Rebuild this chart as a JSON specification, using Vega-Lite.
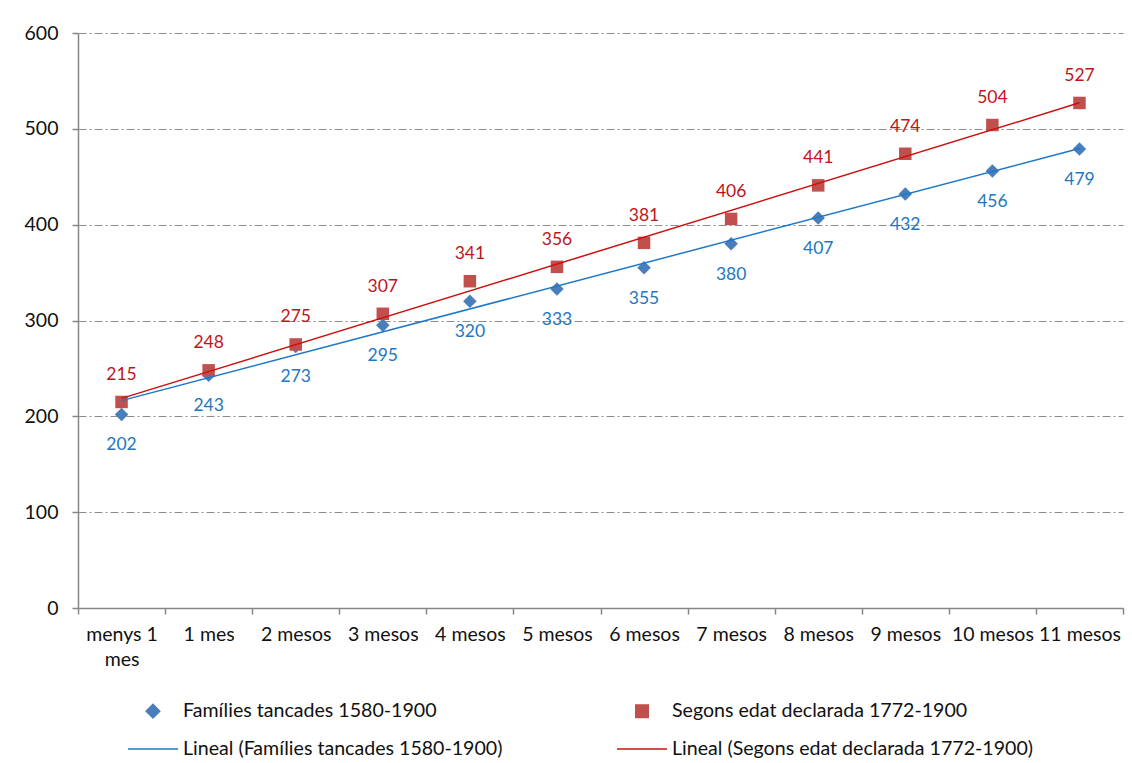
{
  "$schema": "https://vega.github.io/schema/vega-lite/v6.json",
  "width": 1045,
  "height": 575,
  "autosize": {"type": "none"},
  "padding": {"left": 78, "top": 33, "right": 9, "bottom": 155},
  "background": "white",
  "config": {
    "view": {"stroke": null},
    "font": "Lato",
    "axis": {
      "domainColor": "#868686",
      "domainWidth": 1.5,
      "tickColor": "#868686",
      "tickWidth": 1.5,
      "labelFont": "Lato",
      "labelFontSize": 19.5,
      "labelColor": "#111111",
      "title": null
    },
    "legend": {"padding": 0}
  },
  "datasets": {
    "pts": [
      {"idx": 1, "cat": "menys 1 mes", "series": "Famílies tancades 1580-1900", "trend": "Lineal (Famílies tancades 1580-1900)", "value": 202},
      {"idx": 2, "cat": "1 mes", "series": "Famílies tancades 1580-1900", "trend": "Lineal (Famílies tancades 1580-1900)", "value": 243},
      {"idx": 3, "cat": "2 mesos", "series": "Famílies tancades 1580-1900", "trend": "Lineal (Famílies tancades 1580-1900)", "value": 273},
      {"idx": 4, "cat": "3 mesos", "series": "Famílies tancades 1580-1900", "trend": "Lineal (Famílies tancades 1580-1900)", "value": 295},
      {"idx": 5, "cat": "4 mesos", "series": "Famílies tancades 1580-1900", "trend": "Lineal (Famílies tancades 1580-1900)", "value": 320},
      {"idx": 6, "cat": "5 mesos", "series": "Famílies tancades 1580-1900", "trend": "Lineal (Famílies tancades 1580-1900)", "value": 333},
      {"idx": 7, "cat": "6 mesos", "series": "Famílies tancades 1580-1900", "trend": "Lineal (Famílies tancades 1580-1900)", "value": 355},
      {"idx": 8, "cat": "7 mesos", "series": "Famílies tancades 1580-1900", "trend": "Lineal (Famílies tancades 1580-1900)", "value": 380},
      {"idx": 9, "cat": "8 mesos", "series": "Famílies tancades 1580-1900", "trend": "Lineal (Famílies tancades 1580-1900)", "value": 407},
      {"idx": 10, "cat": "9 mesos", "series": "Famílies tancades 1580-1900", "trend": "Lineal (Famílies tancades 1580-1900)", "value": 432},
      {"idx": 11, "cat": "10 mesos", "series": "Famílies tancades 1580-1900", "trend": "Lineal (Famílies tancades 1580-1900)", "value": 456},
      {"idx": 12, "cat": "11 mesos", "series": "Famílies tancades 1580-1900", "trend": "Lineal (Famílies tancades 1580-1900)", "value": 479},
      {"idx": 1, "cat": "menys 1 mes", "series": "Segons edat declarada 1772-1900", "trend": "Lineal (Segons edat declarada 1772-1900)", "value": 215},
      {"idx": 2, "cat": "1 mes", "series": "Segons edat declarada 1772-1900", "trend": "Lineal (Segons edat declarada 1772-1900)", "value": 248},
      {"idx": 3, "cat": "2 mesos", "series": "Segons edat declarada 1772-1900", "trend": "Lineal (Segons edat declarada 1772-1900)", "value": 275},
      {"idx": 4, "cat": "3 mesos", "series": "Segons edat declarada 1772-1900", "trend": "Lineal (Segons edat declarada 1772-1900)", "value": 307},
      {"idx": 5, "cat": "4 mesos", "series": "Segons edat declarada 1772-1900", "trend": "Lineal (Segons edat declarada 1772-1900)", "value": 341},
      {"idx": 6, "cat": "5 mesos", "series": "Segons edat declarada 1772-1900", "trend": "Lineal (Segons edat declarada 1772-1900)", "value": 356},
      {"idx": 7, "cat": "6 mesos", "series": "Segons edat declarada 1772-1900", "trend": "Lineal (Segons edat declarada 1772-1900)", "value": 381},
      {"idx": 8, "cat": "7 mesos", "series": "Segons edat declarada 1772-1900", "trend": "Lineal (Segons edat declarada 1772-1900)", "value": 406},
      {"idx": 9, "cat": "8 mesos", "series": "Segons edat declarada 1772-1900", "trend": "Lineal (Segons edat declarada 1772-1900)", "value": 441},
      {"idx": 10, "cat": "9 mesos", "series": "Segons edat declarada 1772-1900", "trend": "Lineal (Segons edat declarada 1772-1900)", "value": 474},
      {"idx": 11, "cat": "10 mesos", "series": "Segons edat declarada 1772-1900", "trend": "Lineal (Segons edat declarada 1772-1900)", "value": 504},
      {"idx": 12, "cat": "11 mesos", "series": "Segons edat declarada 1772-1900", "trend": "Lineal (Segons edat declarada 1772-1900)", "value": 527}
    ],
    "cats": [
      {"idx": 1, "cat": "menys 1 mes"},
      {"idx": 2, "cat": "1 mes"},
      {"idx": 3, "cat": "2 mesos"},
      {"idx": 4, "cat": "3 mesos"},
      {"idx": 5, "cat": "4 mesos"},
      {"idx": 6, "cat": "5 mesos"},
      {"idx": 7, "cat": "6 mesos"},
      {"idx": 8, "cat": "7 mesos"},
      {"idx": 9, "cat": "8 mesos"},
      {"idx": 10, "cat": "9 mesos"},
      {"idx": 11, "cat": "10 mesos"},
      {"idx": 12, "cat": "11 mesos"}
    ]
  },
  "data": {"name": "pts"},
  "encoding": {
    "x": {
      "field": "cat",
      "type": "nominal",
      "scale": {
        "type": "band",
        "domain": ["menys 1 mes", "1 mes", "2 mesos", "3 mesos", "4 mesos", "5 mesos", "6 mesos", "7 mesos", "8 mesos", "9 mesos", "10 mesos", "11 mesos"],
        "paddingInner": 0,
        "paddingOuter": 0
      },
      "axis": {
        "tickBand": "extent",
        "tickSize": 6,
        "labelPadding": 11,
        "labelAngle": 0,
        "grid": false,
        "labelExpr": "datum.label == 'menys 1 mes' ? ['menys 1', 'mes'] : datum.label",
        "labelLineHeight": 25
      }
    },
    "y": {
      "field": "value",
      "type": "quantitative",
      "scale": {"domain": [0, 600], "nice": false},
      "axis": {
        "values": [0, 100, 200, 300, 400, 500, 600],
        "tickSize": 6,
        "labelPadding": 14,
        "grid": true,
        "gridDash": [8, 3, 2, 3],
        "gridColor": "#8C8C8C",
        "gridWidth": 1
      }
    }
  },
  "layer": [
    {
      "mark": {"type": "point", "filled": true, "size": 2500, "opacity": 1, "strokeWidth": 0},
      "encoding": {
        "color": {
          "field": "series",
          "type": "nominal",
          "scale": {
            "domain": ["Famílies tancades 1580-1900", "Segons edat declarada 1772-1900", "Lineal (Famílies tancades 1580-1900)", "Lineal (Segons edat declarada 1772-1900)"],
            "range": ["#4A7EBB", "#C0504D", "#1F77C8", "#CC1010"]
          },
          "legend": {
            "orient": "none",
            "direction": "horizontal",
            "legendX": 49,
            "legendY": 652,
            "columns": 2,
            "columnPadding": 111,
            "rowPadding": 2,
            "title": null,
            "labelFont": "Lato",
            "labelFontSize": 19.6,
            "labelColor": "#111111",
            "labelLimit": 500,
            "labelOffset": 4,
            "symbolOffset": 0,
            "symbolSize": 2500,
            "symbolStrokeWidth": 1.5,
            "encode": {
              "symbols": {
                "update": {
                  "fill": {"scale": "color", "field": "value"},
                  "stroke": {"signal": "indexof(datum.value, 'Lineal') == 0 ? scale('color', datum.value) : 'transparent'"},
                  "strokeWidth": {"value": 1.5},
                  "opacity": {"value": 1}
                }
              }
            }
          }
        },
        "shape": {
          "field": "series",
          "type": "nominal",
          "scale": {
            "domain": ["Famílies tancades 1580-1900", "Segons edat declarada 1772-1900", "Lineal (Famílies tancades 1580-1900)", "Lineal (Segons edat declarada 1772-1900)"],
            "range": ["M-0.27,0L0,-0.27L0.27,0L0,0.27Z", "M-0.25,-0.25H0.25V0.25H-0.25Z", "M-1,0H1", "M-1,0H1"]
          },
          "legend": {
            "orient": "none",
            "direction": "horizontal",
            "legendX": 49,
            "legendY": 652,
            "columns": 2,
            "columnPadding": 111,
            "rowPadding": 2,
            "title": null,
            "labelFont": "Lato",
            "labelFontSize": 19.6,
            "labelColor": "#111111",
            "labelLimit": 500,
            "labelOffset": 4,
            "symbolOffset": 0,
            "symbolSize": 2500,
            "symbolStrokeWidth": 1.5
          }
        }
      }
    },
    {
      "transform": [
        {"regression": "value", "on": "idx", "groupby": ["trend"]},
        {"lookup": "idx", "from": {"data": {"name": "cats"}, "key": "idx", "fields": ["cat"]}}
      ],
      "mark": {"type": "line", "strokeWidth": 1.5},
      "encoding": {
        "color": {
          "field": "trend",
          "type": "nominal",
          "scale": {
            "domain": ["Famílies tancades 1580-1900", "Segons edat declarada 1772-1900", "Lineal (Famílies tancades 1580-1900)", "Lineal (Segons edat declarada 1772-1900)"],
            "range": ["#4A7EBB", "#C0504D", "#1F77C8", "#CC1010"]
          },
          "legend": null
        }
      }
    },
    {
      "transform": [{"filter": "datum.series == 'Segons edat declarada 1772-1900'"}],
      "mark": {"type": "text", "baseline": "alphabetic", "dy": -22, "fontSize": 17.5, "font": "Lato", "color": "#C0141A"},
      "encoding": {"text": {"field": "value", "type": "quantitative"}}
    },
    {
      "transform": [{"filter": "datum.series == 'Famílies tancades 1580-1900'"}],
      "mark": {"type": "text", "baseline": "alphabetic", "dy": 36, "fontSize": 17.5, "font": "Lato", "color": "#2277C0"},
      "encoding": {"text": {"field": "value", "type": "quantitative"}}
    }
  ]
}
